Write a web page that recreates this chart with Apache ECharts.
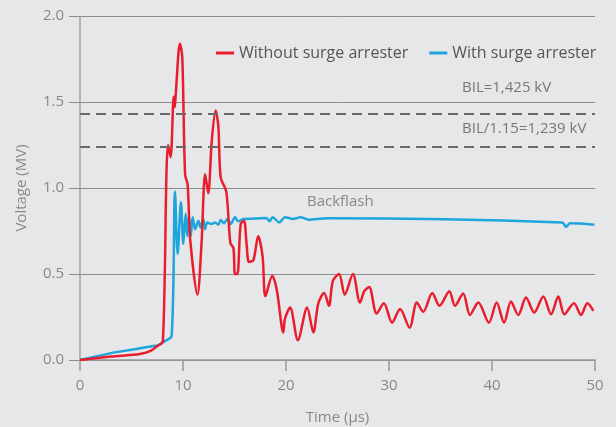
<!DOCTYPE html>
<html>
<head>
<meta charset="utf-8">
<script src="https://cdn.jsdelivr.net/npm/echarts@6/dist/echarts.min.js"></script>
<style>
html,body{margin:0;padding:0;background:#e6e7e9;}
#chart{width:616px;height:427px;}
</style>
</head>
<body>
<div id="chart"></div>
<script>
var seriesNames = ['Without surge arrester', 'With surge arrester'];
var yTicks = [0, 0.5, 1.0, 1.5, 2.0];
var xTicks = [0, 10, 20, 30, 40, 50];
var bilLevels = [1.425, 1.239];
var bilLabels = ['BIL=1,425 kV', 'BIL/1.15=1,239 kV'];
var annotation = 'Backflash';

var withoutArrester = [
  [0,0],[3,0.02],[5.8,0.035],[6.8,0.052],[7.6,0.085],[8.05,0.11],[8.4,1.1],[8.55,1.25],[8.8,1.18],
  [9.1,1.53],[9.2,1.47],[9.3,1.55],[9.7,1.84],[9.93,1.76],[10.2,1.08],[10.45,1.02],[10.7,0.7],
  [11.4,0.38],[11.8,0.68],[12.15,1.08],[12.45,0.97],[12.8,1.28],[13.17,1.45],[13.43,1.36],
  [13.66,1.06],[14.2,0.98],[14.6,0.68],[14.9,0.65],[15.05,0.5],[15.28,0.5],[15.6,0.79],
  [15.92,0.81],[16.18,0.67],[16.4,0.57],[16.83,0.58],[17.3,0.72],[17.73,0.6],[18.0,0.37],
  [18.67,0.49],[19.1,0.41],[19.74,0.16],[19.9,0.24],[20.4,0.305],[21.15,0.115],[22.05,0.305],
  [22.65,0.16],[23.14,0.33],[23.7,0.39],[24.17,0.315],[24.55,0.46],[25.15,0.5],[25.7,0.38],
  [26.5,0.5],[27.18,0.334],[27.6,0.4],[28.07,0.425],[28.8,0.27],[29.5,0.33],[30.3,0.217],
  [31.07,0.296],[32.0,0.188],[32.7,0.334],[33.33,0.28],[34.2,0.39],[34.9,0.315],[35.86,0.4],
  [36.4,0.315],[37.2,0.387],[37.86,0.262],[38.67,0.334],[39.7,0.217],[40.45,0.334],[41.17,0.217],
  [41.84,0.34],[42.55,0.262],[43.3,0.363],[44.1,0.276],[44.98,0.369],[45.73,0.266],[46.44,0.369],
  [47.02,0.266],[47.96,0.33],[48.64,0.262],[49.26,0.33],[49.84,0.286]
];

var withArrester = [
  [0,0],[3,0.04],[5,0.06],[7.1,0.082],[7.6,0.085],[8.25,0.11],[8.9,0.14],[9.22,0.98],[9.48,0.616],
  [9.8,0.917],[10.03,0.675],[10.26,0.85],[10.42,0.72],[10.58,0.84],[10.75,0.72],[10.94,0.83],
  [11.17,0.76],[11.5,0.81],[11.7,0.77],[11.97,0.82],[12.14,0.76],[12.36,0.8],[12.78,0.79],
  [13.1,0.8],[13.43,0.787],[13.66,0.814],[13.98,0.795],[14.3,0.82],[14.63,0.79],[15.05,0.83],
  [15.37,0.806],[15.86,0.82],[17.0,0.822],[18.1,0.826],[18.4,0.806],[18.7,0.83],[19.35,0.8],
  [19.9,0.83],[20.7,0.82],[21.4,0.83],[22.2,0.816],[23.95,0.824],[46.8,0.8],[47.2,0.775],
  [47.6,0.795],[49.94,0.787]
];

var RED = '#ea1d2c';
var BLUE = '#1ea5dc';
var FONT = 'Open Sans';

var chart = echarts.init(document.getElementById('chart'));
chart.setOption({
  backgroundColor: '#e6e7e9',
  animation: false,
  textStyle: { fontFamily: FONT },
  grid: { left: 80, right: 21, top: 16, bottom: 67, containLabel: false, outerBoundsMode: 'none' },
  legend: {
    data: seriesNames,
    left: 211, top: 40,
    icon: 'rect', itemWidth: 18, itemHeight: 3, itemGap: 21,
    textStyle: { fontFamily: FONT, fontSize: 16, color: '#555' }
  },
  xAxis: {
    type: 'value', min: xTicks[0], max: xTicks[xTicks.length - 1], interval: 10,
    name: 'Time (µs)', nameLocation: 'middle', nameGap: 50,
    nameTextStyle: { fontFamily: FONT, fontSize: 15, color: '#888' },
    axisLine: { show: true, lineStyle: { color: '#999', width: 1.5 } },
    axisTick: { show: true, length: 11, lineStyle: { color: '#999', width: 1.5 } },
    axisLabel: { fontFamily: FONT, fontSize: 15, color: '#888', margin: 18 },
    splitLine: { show: false }
  },
  yAxis: {
    type: 'value', min: yTicks[0], max: yTicks[yTicks.length - 1], interval: 0.5,
    name: 'Voltage (MV)', nameLocation: 'middle', nameGap: 51,
    nameTextStyle: { fontFamily: FONT, fontSize: 15, color: '#888' },
    axisLine: { show: true, lineStyle: { color: '#a5a5a5', width: 1.5 } },
    axisTick: { show: true, length: 11, lineStyle: { color: '#8c8c8c', width: 1 } },
    axisLabel: { fontFamily: FONT, fontSize: 15, color: '#888', margin: 16,
      formatter: function (v) { return v.toFixed(1); } },
    splitLine: { show: true, lineStyle: { color: '#8c8c8c', width: 1 } }
  },
  graphic: [
    { type: 'text', left: 462, top: 80, style: { text: bilLabels[0], font: '15px "Open Sans"', fill: '#777' } },
    { type: 'text', left: 462, top: 121, style: { text: bilLabels[1], font: '15px "Open Sans"', fill: '#777' } },
    { type: 'text', left: 307, top: 194, style: { text: annotation, font: '15px "Open Sans"', fill: '#888' } }
  ],
  series: [
    {
      name: seriesNames[1], type: 'line', data: withArrester, showSymbol: false, smooth: 0.3,
      lineStyle: { color: BLUE, width: 2.5 }, itemStyle: { color: BLUE }, z: 3
    },
    {
      name: seriesNames[0], type: 'line', data: withoutArrester, showSymbol: false, smooth: 0.3,
      lineStyle: { color: RED, width: 2.5 }, itemStyle: { color: RED }, z: 4,
      markLine: {
        silent: true, symbol: 'none', label: { show: false },
        lineStyle: { color: '#6a6a6a', type: [10, 6], width: 2 },
        data: bilLevels.map(function (v) { return { yAxis: v }; })
      }
    }
  ]
});
</script>
</body>
</html>
